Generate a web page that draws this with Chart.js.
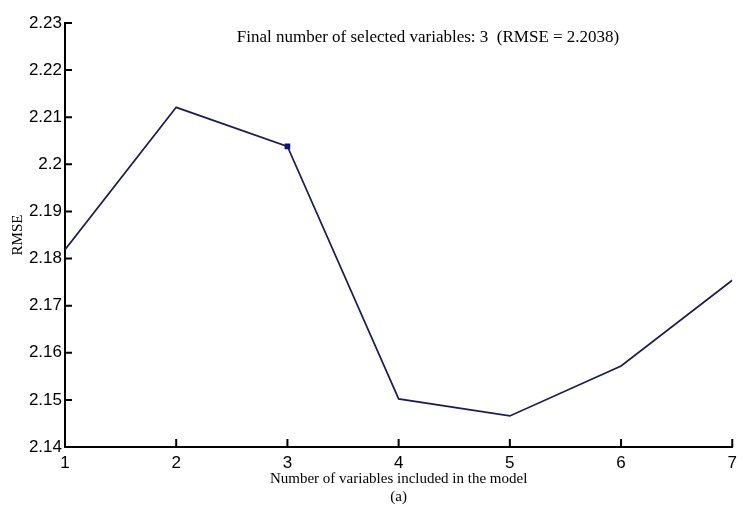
<!DOCTYPE html>
<html>
<head>
<meta charset="utf-8">
<script src="https://cdn.jsdelivr.net/npm/chart.js@4"></script>
<style>
    html, body { margin: 0; padding: 0; background: #fff; }
    #wrap { width: 743px; height: 509px; }
</style>
</head>
<body>
<div id="wrap"><canvas id="rmse-chart" width="743" height="509"></canvas></div>
<script>
// Data
const numVars = [1, 2, 3, 4, 5, 6, 7];
const rmseValues = [2.1819, 2.2121, 2.2038, 2.1502, 2.1466, 2.1572, 2.1754];
const selectedN = 3;
const xTicks = [1, 2, 3, 4, 5, 6, 7];
const yTicks = [2.14, 2.15, 2.16, 2.17, 2.18, 2.19, 2.20, 2.21, 2.22, 2.23];
const titleText = 'Final number of selected variables: 3  (RMSE = 2.2038)';

const serif = '"Liberation Serif", "DejaVu Serif", serif';
const sans = '"Liberation Sans", Arial, sans-serif';

/**
 * Inward MATLAB-style tick marks + text inside the axes
 */
const axesDecor = {
    id: 'axesDecor',
    afterDatasetsDraw(chart) {
        const ctx = chart.ctx;
        const xs = chart.scales.x;
        const ys = chart.scales.y;
        ctx.save();
        ctx.strokeStyle = '#000';
        ctx.lineWidth = 2;
        ctx.beginPath();
        ys.ticks.forEach(t => {
            const y = ys.getPixelForValue(t.value);
            ctx.moveTo(ys.right, y);
            ctx.lineTo(ys.right + 7, y);
        });
        xs.ticks.forEach(t => {
            const x = xs.getPixelForValue(t.value);
            ctx.moveTo(x, xs.top);
            ctx.lineTo(x, xs.top - 8);
        });
        ctx.stroke();

        // title inside plot
        ctx.fillStyle = '#000';
        ctx.font = '17px ' + serif;
        ctx.textAlign = 'center';
        ctx.textBaseline = 'alphabetic';
        ctx.fillText(titleText, 428, 42);
        ctx.restore();
    }
};

const points = numVars.map((n, i) => ({ x: n, y: rmseValues[i] }));

new Chart(document.getElementById('rmse-chart'), {
    type: 'line',
    data: {
        datasets: [
            {
                label: 'RMSE',
                data: points,
                borderColor: '#1c1c58',
                borderWidth: 1.7,
                pointRadius: 0,
                tension: 0,
                fill: false
            },
            {
                label: 'Selected',
                data: [{ x: selectedN, y: rmseValues[selectedN - 1] }],
                showLine: false,
                pointStyle: 'rect',
                pointRadius: 4,
                backgroundColor: '#0c0c9c',
                borderColor: '#0c0c9c',
                borderWidth: 0
            }
        ]
    },
    options: {
        responsive: false,
        animation: false,
        devicePixelRatio: 1,
        layout: {
            padding: { top: 23, right: 3, left: 0, bottom: 0 }
        },
        plugins: {
            legend: { display: false },
            tooltip: { enabled: false }
        },
        scales: {
            x: {
                type: 'linear',
                min: 1,
                max: 7,
                afterBuildTicks(scale) {
                    scale.ticks = xTicks.map(v => ({ value: v }));
                },
                afterFit(scale) {
                    scale.height = 62;
                },
                grid: { display: true, drawOnChartArea: false, drawTicks: false },
                border: { display: true, color: '#000', width: 2 },
                ticks: {
                    color: '#000',
                    padding: 6,
                    maxRotation: 0,
                    autoSkip: false,
                    font: { family: sans, size: 17 },
                    callback: v => String(v)
                },
                title: {
                    display: true,
                    text: ['Number of variables included in the model', '(a)'],
                    color: '#000',
                    font: { family: serif, size: 15, lineHeight: 1.2 },
                    padding: { top: 0, bottom: 3 }
                }
            },
            y: {
                min: 2.14,
                max: 2.23,
                afterBuildTicks(scale) {
                    scale.ticks = yTicks.map(v => ({ value: v }));
                },
                afterFit(scale) {
                    scale.width = 65;
                },
                grid: { display: true, drawOnChartArea: false, drawTicks: false },
                border: { display: true, color: '#000', width: 2 },
                ticks: {
                    color: '#000',
                    padding: 3,
                    autoSkip: false,
                    font: { family: sans, size: 17 },
                    callback: v => String(Number(v.toFixed(2)))
                },
                title: {
                    display: true,
                    text: 'RMSE',
                    color: '#000',
                    font: { family: serif, size: 15, lineHeight: 1.2 },
                    padding: { top: 9, bottom: 0 }
                }
            }
        }
    },
    plugins: [axesDecor]
});
</script>
</body>
</html>
